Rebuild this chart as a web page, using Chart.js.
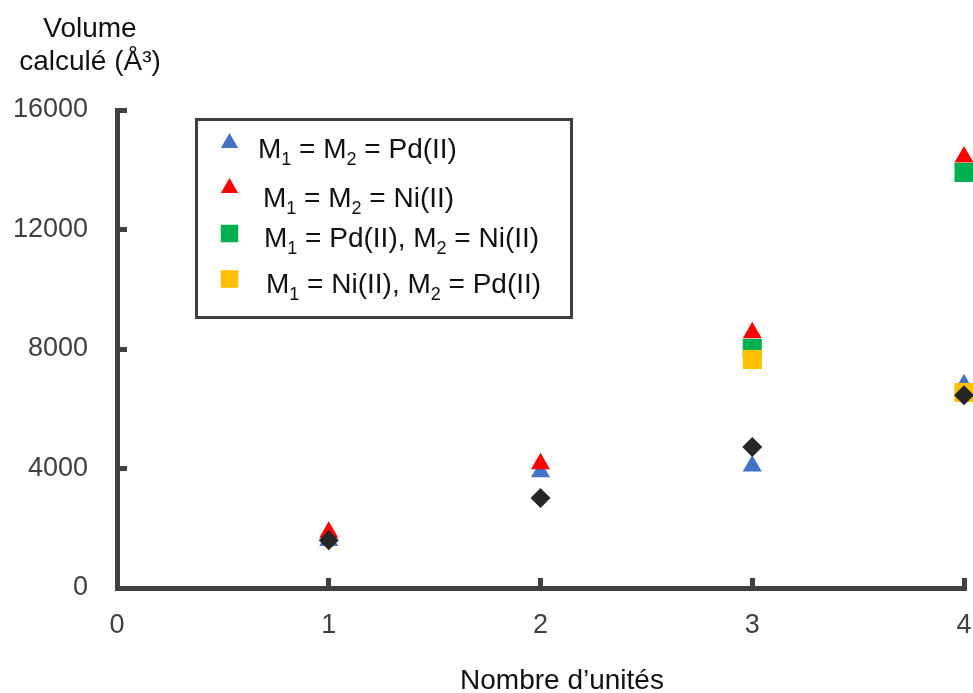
<!DOCTYPE html>
<html>
<head>
<meta charset="utf-8">
<script src="https://cdn.jsdelivr.net/npm/chart.js@4.4.0/dist/chart.umd.min.js"></script>
<style>
    html, body { margin: 0; padding: 0; background: #fff; }
</style>
</head>
<body>
<canvas id="volumeChart" width="973" height="693"></canvas>
<script>
// nombre d'unités (axe x)
var unites = [1, 2, 3, 4];
var unitesMixtes = [3, 4];

// volumes calculés (Å3)
var volPdPd = [1590, 3890, 4080, 6800];
var volNiNi = [1870, 4160, 8545, 14430];
var volPdNi = [8020, 13910];
var volNiPd = [7650, 6545];
var volAutre = [1600, 3010, 4720, 6450];

var legendeTextes = ['M_1 = M_2 = Pd(II)', 'M_1 = M_2 = Ni(II)', 'M_1 = Pd(II), M_2 = Ni(II)', 'M_1 = Ni(II), M_2 = Pd(II)'];

var FONT = '"Liberation Sans", Arial, Helvetica, sans-serif';

function points(xs, ys) {
    return xs.map(function(x, i) { return { x: x, y: ys[i] }; });
}

function drawSubText(ctx, text, x, y, size) {
    var parts = text.split(/(_\d)/);
    parts.forEach(function(p) {
        if (!p) return;
        if (p.charAt(0) === '_') {
            ctx.font = Math.round(size * 0.64) + 'px ' + FONT;
            ctx.fillText(p.charAt(1), x, y + 7);
            x += ctx.measureText(p.charAt(1)).width;
        } else {
            ctx.font = size + 'px ' + FONT;
            ctx.fillText(p, x, y);
            x += ctx.measureText(p).width;
        }
    });
}

function drawMarker(ctx, style, r, x, y) {
    if (Chart.helpers && Chart.helpers.drawPoint) {
        Chart.helpers.drawPoint(ctx, { pointStyle: style, radius: r, rotation: 0, borderWidth: 0 }, x, y);
        return;
    }
    ctx.beginPath();
    if (style === 'triangle') {
        ctx.moveTo(x, y - r);
        ctx.lineTo(x + r * 0.866, y + r / 2);
        ctx.lineTo(x - r * 0.866, y + r / 2);
    } else {
        var s = r * Math.SQRT1_2;
        ctx.rect(x - s, y - s, 2 * s, 2 * s);
    }
    ctx.closePath();
    ctx.fill();
}

// titres et légende encadrée
var annotations = {
    id: 'annotations',
    afterDraw: function(chart) {
        var ctx = chart.ctx;
        ctx.save();
        ctx.fillStyle = '#111';
        ctx.textBaseline = 'alphabetic';
        ctx.textAlign = 'center';
        ctx.font = '28px ' + FONT;
        ctx.fillText('Volume', 90, 37);
        ctx.fillText('calculé (Å³)', 90, 70);
        ctx.fillText('Nombre d’unités', 562, 689);

        // cadre de la légende
        ctx.strokeStyle = '#404040';
        ctx.lineWidth = 3;
        ctx.strokeRect(196.5, 119.5, 375, 198);

        var ds = chart.data.datasets;
        var ys = [143, 188, 233.5, 279];
        var baselines = [158, 207, 247, 293];
        var textX = [258, 263, 264, 266];
        ctx.textAlign = 'left';
        for (var i = 0; i < legendeTextes.length; i++) {
            var style = ds[i].pointStyle;
            ctx.fillStyle = ds[i].backgroundColor;
            drawMarker(ctx, style, style === 'triangle' ? 10 : 12.4, 229.5, ys[i]);
            ctx.fillStyle = '#111';
            drawSubText(ctx, legendeTextes[i], textX[i], baselines[i], 28);
        }
        ctx.restore();
    }
};

var ctx = document.getElementById('volumeChart').getContext('2d');
var volumeChart = new Chart(ctx, {
    type: 'scatter',
    data: {
        datasets: [
            {
                label: 'M1 = M2 = Pd(II)',
                data: points(unites, volPdPd),
                pointStyle: 'triangle',
                pointRadius: 11,
                backgroundColor: '#4472C4',
                borderColor: '#4472C4',
                borderWidth: 0,
                clip: false,
                order: 5
            },
            {
                label: 'M1 = M2 = Ni(II)',
                data: points(unites, volNiNi),
                pointStyle: 'triangle',
                pointRadius: 11,
                backgroundColor: '#FF0000',
                borderColor: '#FF0000',
                borderWidth: 0,
                clip: false,
                order: 4
            },
            {
                label: 'M1 = Pd(II), M2 = Ni(II)',
                data: points(unitesMixtes, volPdNi),
                pointStyle: 'rect',
                pointRadius: 13.5,
                backgroundColor: '#00B050',
                borderColor: '#00B050',
                borderWidth: 0,
                clip: false,
                order: 3
            },
            {
                label: 'M1 = Ni(II), M2 = Pd(II)',
                data: points(unitesMixtes, volNiPd),
                pointStyle: 'rect',
                pointRadius: 13.5,
                backgroundColor: '#FFC000',
                borderColor: '#FFC000',
                borderWidth: 0,
                clip: false,
                order: 2
            },
            {
                label: 'autre',
                data: points(unites, volAutre),
                pointStyle: 'rectRot',
                pointRadius: 10,
                backgroundColor: '#262626',
                borderColor: '#262626',
                borderWidth: 0,
                clip: false,
                order: 1
            }
        ]
    },
    options: {
        responsive: false,
        animation: false,
        layout: {
            autoPadding: false,
            padding: { top: 110, right: 9, left: 0, bottom: 0 }
        },
        scales: {
            x: {
                type: 'linear',
                min: 0,
                max: 4,
                afterFit: function(scale) {
                    scale.height = 105;
                    scale.paddingLeft = 0;
                    scale.paddingRight = 0;
                },
                ticks: {
                    stepSize: 1,
                    padding: 31,
                    color: '#404040',
                    font: { family: FONT, size: 27 }
                },
                grid: {
                    drawOnChartArea: false,
                    drawTicks: true,
                    tickLength: -10,
                    tickWidth: 5,
                    tickColor: '#404040'
                },
                border: { display: true, width: 5, color: '#404040' }
            },
            y: {
                min: 0,
                max: 16000,
                afterFit: function(scale) {
                    scale.width = 117;
                    scale.paddingTop = 0;
                    scale.paddingBottom = 0;
                },
                ticks: {
                    stepSize: 4000,
                    padding: 39,
                    color: '#404040',
                    font: { family: FONT, size: 27 },
                    callback: function(value) { return String(value); }
                },
                grid: {
                    drawOnChartArea: false,
                    drawTicks: true,
                    tickLength: -10,
                    tickWidth: 5,
                    tickColor: '#404040'
                },
                border: { display: true, width: 5, color: '#404040' }
            }
        },
        plugins: {
            legend: { display: false },
            tooltip: { enabled: false }
        }
    },
    plugins: [annotations]
});
</script>
</body>
</html>
